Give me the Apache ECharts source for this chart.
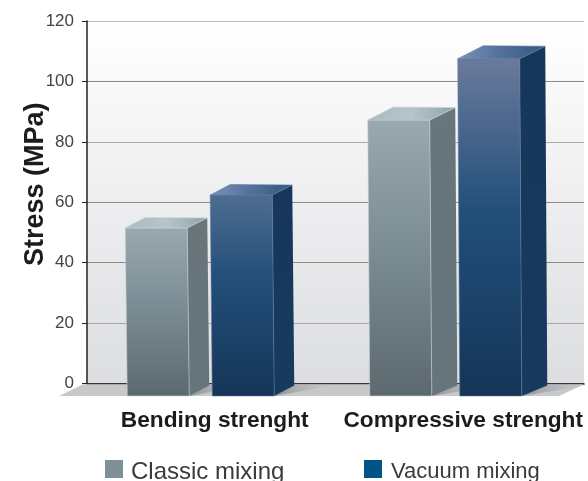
<!DOCTYPE html>
<html><head><meta charset="utf-8">
<style>html,body{margin:0;padding:0;background:#fff}#c{width:588px;height:481px}</style>
<script src="https://cdn.jsdelivr.net/npm/echarts@6/dist/echarts.min.js"></script>
</head><body><div id="c"></div>
<script>
const categories = ['Bending strenght', 'Compressive strenght'];
const classicValues = [51.5, 87.2];
const vacuumValues = [62.4, 107.5];
const seriesNames = ['Classic mixing', 'Vacuum mixing'];
const yTicks = {min: 0, max: 120, interval: 20};
const axisTitle = 'Stress (MPa)';

const FRONT_OFFSET = [[-86, -92], [-1, -2]];
const DEPTH = [[20, 10], [25.5, 12.5]];
const BAR_W = 62;
const LEGEND_ICON = 'path://M0 0H18V18H0Z M0 24H18';
const lin = (x, y, x2, y2, stops) => ({type: 'linear', x, y, x2, y2,
  colorStops: stops.map((c, i) => ({offset: c[0], color: c[1]}))});

const looks = [
  { front: () => lin(0,0,0,1,[[0,'#9aa8af'],[0.45,'#7c8d95'],[1,'#5c696f']]),
    side: lin(0,0,0,1,[[0,'#68767b'],[1,'#66757c']]),
    top: lin(0,0,1,0,[[0,'#a9bac0'],[0.5,'#b6c5ca'],[1,'#8fa3ab']]), edge: '#c9d2d6' },
  { front: c => lin(0,0,0,1, c === 0
      ? [[0,'#4f6d92'],[0.4,'#244f7a'],[1,'#153558']]
      : [[0,'#6b7a9c'],[0.45,'#224f7a'],[1,'#153558']]),
    side: lin(0,0,0,1,[[0,'#16375b'],[1,'#183a5f']]),
    top: lin(0,0,1,0,[[0,'#7b92ba'],[0.45,'#56739f'],[1,'#33567f']]), edge: '#5f7c9b' }
];

function barItem(s) {
  return function (params, api) {
    const c = api.value(0);
    const p = api.coord([c, api.value(1)]);
    const base = api.coord([c, 0]);
    const look = looks[s];
    const l = p[0] + FRONT_OFFSET[s][c];
    const r = l + BAR_W;
    const [dx, dy] = DEPTH[c];
    const tY = p[1], bY = base[1] + 12.5;
    const poly = (pts, fill, stroke) => ({type: 'polygon', shape: {points: pts},
      style: {fill, stroke: stroke || null, lineWidth: stroke ? 0.6 : 0}});
    return {type: 'group', children: [
      poly([[r + 2, bY], [r + 2 + dx, base[1] + 1.5], [r + 2 + dx + 42, base[1] + 1.5]],
        lin(0,0,1,0,[[0,'#8f9092'],[1,'rgba(198,199,201,0.2)']])),
      poly([[r, tY], [r + dx, tY - dy], [r + 2 + dx, base[1] + 2], [r + 2, bY]], look.side),
      poly([[l, tY], [r, tY], [r + 2, bY], [l + 2, bY]], look.front(c), look.edge),
      poly([[l, tY], [l + dx, tY - dy - 0.5], [r + dx, tY - dy], [r, tY]], look.top, look.edge)
    ]};
  };
}

const chart = echarts.init(document.getElementById('c'), null, {renderer: 'canvas'});
chart.setOption({
  animation: false,
  backgroundColor: '#fff',
  textStyle: {fontFamily: '"Liberation Sans", Arial, sans-serif'},
  grid: {left: 87, right: 4, top: 21, bottom: 97.5, show: true, borderWidth: 0,
    backgroundColor: lin(0,0,0,1,[[0,'#ffffff'],[1,'#dcdde0']])},
  legend: [
    {data: [seriesNames[0]], left: 105, top: 460, itemWidth: 18, itemHeight: 24, itemGap: 8, padding: 0,
     icon: LEGEND_ICON, textStyle: {fontSize: 24, color: '#3a3a3a', padding: [0, 0, 0, 3], fontFamily: '"Liberation Sans"'}},
    {data: [seriesNames[1]], left: 364, top: 460, itemWidth: 18, itemHeight: 24, itemGap: 8, padding: 0,
     icon: LEGEND_ICON, textStyle: {fontSize: 22, color: '#3a3a3a', padding: [0, 0, 0, 4], fontFamily: '"Liberation Sans"'}}
  ],
  xAxis: {type: 'category', data: categories,
    axisLine: {show: true, lineStyle: {color: '#1a1a1a', width: 1.5}},
    axisTick: {show: false}, splitLine: {show: false},
    axisLabel: {interval: 0, margin: 26, fontSize: 22.7, fontWeight: 'bold', color: '#1c1c1e',
      padding: [0, 0, 0, 7], fontFamily: '"Liberation Sans"'}},
  yAxis: {type: 'value', min: yTicks.min, max: yTicks.max, interval: yTicks.interval,
    name: axisTitle, nameLocation: 'middle', nameGap: 38, nameMoveOverlap: false,
    nameTextStyle: {fontSize: 27, fontWeight: 'bold', color: '#1c1c1e', padding: [0, 0, 0, 36],
      fontFamily: '"Liberation Sans"'},
    axisLine: {show: true, lineStyle: {color: '#222', width: 1.5}},
    axisTick: {show: true, length: 5, lineStyle: {color: '#222', width: 1}},
    axisLabel: {margin: 13, fontSize: 17, color: '#444', padding: [4, 0, 0, 0], fontFamily: '"Liberation Sans"'},
    splitLine: {show: true, lineStyle: {width: 1,
      color: ['#8c8c8c','#a8a8a8','#8c8c8c','#8c8c8c','#a8a8a8','#8c8c8c','#bdbdbd']}}},
  series: [
    {type: 'custom', name: '__floor', silent: true, clip: false, z: 1,
     data: [[0, 0]], encode: {x: 0, y: 1},
     renderItem: (params, api) => {
       const y = api.coord([0, 0])[1], cs = params.coordSys;
       return {type: 'polygon', shape: {points: [[cs.x - 4, y + 0.7], [cs.x + cs.width, y + 0.7],
         [cs.x + cs.width - 25, y + 12.5], [cs.x - 28, y + 12.5]]},
         style: {fill: '#c7c8ca'}};
     }},
    {type: 'custom', name: seriesNames[0], clip: false, z: 3, itemStyle: {color: '#7f909a'},
     data: classicValues.map((v, i) => [i, v]), encode: {x: 0, y: 1}, renderItem: barItem(0)},
    {type: 'custom', name: seriesNames[1], clip: false, z: 3, itemStyle: {color: '#005586'},
     data: vacuumValues.map((v, i) => [i, v]), encode: {x: 0, y: 1}, renderItem: barItem(1)}
  ]
});
</script></body></html>
